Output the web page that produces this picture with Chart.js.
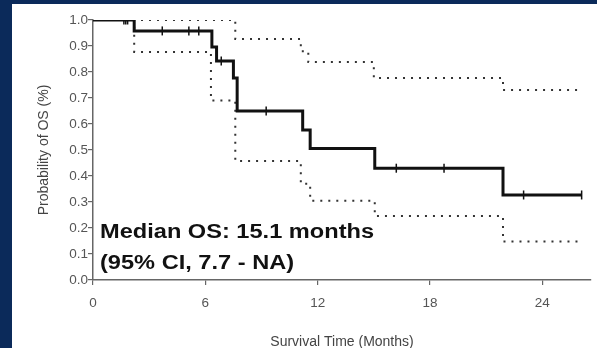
<!DOCTYPE html>
<html>
<head>
<meta charset="utf-8">
<script src="https://cdn.jsdelivr.net/npm/chart.js@4"></script>
<style>
  html, body { margin: 0; padding: 0; }
  body { width: 597px; height: 348px; background: #0b2a5a; position: relative; overflow: hidden; }
  #panel { position: absolute; left: 12px; top: 4px; width: 585px; height: 344px; background: #fff; }
  #osChart { position: absolute; left: 0; top: 0; }
</style>
</head>
<body>
<div id="panel"></div>
<canvas id="osChart" width="597" height="348"></canvas>
<script>
// Kaplan-Meier estimate (step changes), months vs probability
const kmTime = [0, 2.2, 6.35, 6.6, 7.5, 7.7, 11.2, 11.6, 15.05, 21.9, 26.1];
const kmProb = [1.0, 0.958, 0.896, 0.842, 0.777, 0.65, 0.577, 0.506, 0.43, 0.327, 0.327];

// 95% confidence bounds
const upperTime = [0, 7.6, 11.1, 11.5, 15.0, 21.9, 26.1];
const upperProb = [1.0, 0.927, 0.88, 0.838, 0.777, 0.731, 0.731];
const lowerTime = [0, 2.2, 6.3, 7.6, 11.1, 11.6, 15.05, 21.9, 26.1];
const lowerProb = [1.0, 0.877, 0.69, 0.458, 0.37, 0.305, 0.246, 0.148, 0.148];

// censored observations
const censorTime = [1.65, 1.75, 1.85, 3.7, 5.12, 5.65, 6.85, 9.25, 16.2, 18.75, 23.0, 26.1];
const censorProb = [1.0, 1.0, 1.0, 0.958, 0.958, 0.958, 0.842, 0.65, 0.43, 0.43, 0.327, 0.327];

const xTicks = [0, 6, 12, 18, 24];
const yTicks = [0, 0.1, 0.2, 0.3, 0.4, 0.5, 0.6, 0.7, 0.8, 0.9, 1.0];

const medianLines = ['Median OS: 15.1 months', '(95% CI, 7.7 - NA)'];

const toPoints = (xs, ys) => xs.map((x, i) => ({ x: x, y: ys[i] }));

const fontFamily = '"Liberation Sans", Arial, sans-serif';
const axisColor = '#666';
const labelColor = '#555';

const medianLabel = {
    id: 'medianLabel',
    afterDatasetsDraw(chart) {
        const ctx = chart.ctx;
        const left = chart.chartArea.left + 7;
        ctx.save();
        ctx.fillStyle = '#111';
        ctx.font = 'bold 20px ' + fontFamily;
        ctx.textBaseline = 'alphabetic';
        ctx.textAlign = 'left';
        [238, 269].forEach((y, i) => {
            ctx.save();
            ctx.translate(left, y);
            ctx.scale(1.18, 1);
            ctx.fillText(medianLines[i], 0, 0);
            ctx.restore();
        });
        ctx.restore();
    }
};

new Chart(document.getElementById('osChart').getContext('2d'), {
    type: 'line',
    data: {
        datasets: [{
            label: 'OS',
            data: toPoints(kmTime, kmProb),
            stepped: 'before',
            borderColor: '#111',
            borderWidth: 3,
            pointRadius: 0,
            fill: false
        }, {
            label: 'Upper 95% CI',
            data: toPoints(upperTime, upperProb),
            stepped: 'before',
            borderColor: '#333',
            borderWidth: 2,
            borderDash: [2, 6],
            pointRadius: 0,
            fill: false
        }, {
            label: 'Lower 95% CI',
            data: toPoints(lowerTime, lowerProb),
            stepped: 'before',
            borderColor: '#333',
            borderWidth: 2,
            borderDash: [2, 6],
            pointRadius: 0,
            fill: false
        }, {
            type: 'scatter',
            label: 'Censored',
            data: toPoints(censorTime, censorProb),
            showLine: false,
            pointStyle: 'line',
            rotation: 90,
            pointRadius: 4.5,
            borderColor: '#111',
            borderWidth: 1.5
        }]
    },
    options: {
        responsive: false,
        animation: false,
        devicePixelRatio: 1,
        layout: { padding: { top: 20, right: 0, left: 0, bottom: 0 } },
        plugins: {
            legend: { display: false },
            tooltip: { enabled: false }
        },
        scales: {
            x: {
                type: 'linear',
                min: 0,
                max: 26.6,
                afterBuildTicks: axis => { axis.ticks = xTicks.map(v => ({ value: v })); },
                afterFit: axis => { axis.height = 68; },
                ticks: {
                    color: labelColor,
                    padding: 10,
                    font: { family: fontFamily, size: 13.5 }
                },
                grid: {
                    drawOnChartArea: false,
                    drawTicks: true,
                    tickLength: 5,
                    color: axisColor,
                    lineWidth: 1.2
                },
                border: { color: axisColor, width: 1.5 },
                title: {
                    display: true,
                    text: 'Survival Time (Months)',
                    color: '#444',
                    font: { family: fontFamily, size: 14 },
                    padding: { top: 0, bottom: -3 }
                }
            },
            y: {
                type: 'linear',
                min: 0,
                max: 1,
                afterBuildTicks: axis => { axis.ticks = yTicks.map(v => ({ value: v })); },
                afterFit: axis => { axis.width = 93; },
                ticks: {
                    color: labelColor,
                    padding: 0,
                    font: { family: fontFamily, size: 13.5 },
                    callback: v => Number(v).toFixed(1)
                },
                grid: {
                    drawOnChartArea: false,
                    drawTicks: true,
                    tickLength: 5,
                    color: axisColor,
                    lineWidth: 1.2
                },
                border: { color: axisColor, width: 1.5 },
                title: {
                    display: true,
                    text: 'Probability of OS (%)',
                    color: '#444',
                    font: { family: fontFamily, size: 14 },
                    padding: { top: 36, bottom: 0 }
                }
            }
        }
    },
    plugins: [medianLabel]
});
</script>
</body>
</html>
